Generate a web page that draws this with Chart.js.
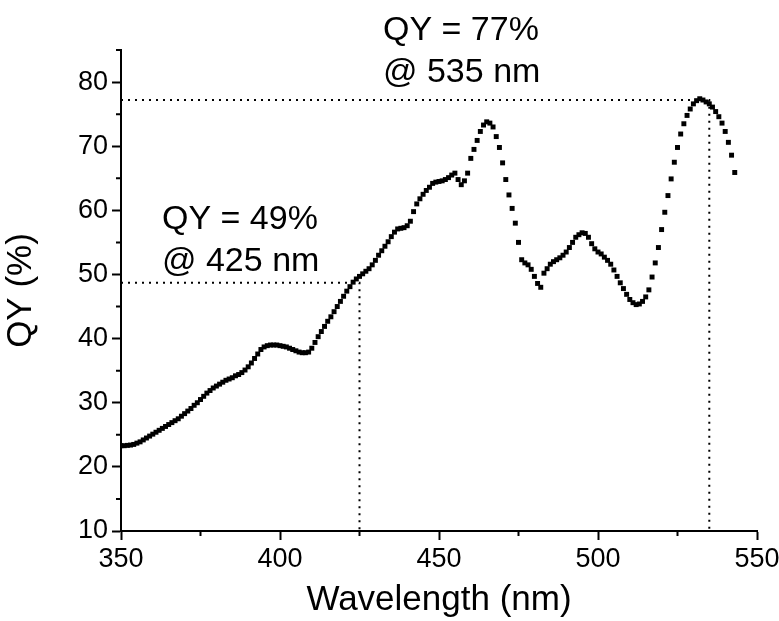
<!DOCTYPE html>
<html>
<head>
<meta charset="utf-8">
<script src="https://cdn.jsdelivr.net/npm/chart.js@4.4.0/dist/chart.umd.min.js"></script>
<style>
    html, body { margin: 0; padding: 0; background: #fff; }
</style>
</head>
<body>
<canvas id="qyChart" width="779" height="621"></canvas>
<script>
// Wavelength (nm), one point per nm
const wavelength = [
    350, 351, 352, 353, 354, 355, 356, 357, 358, 359,
    360, 361, 362, 363, 364, 365, 366, 367, 368, 369,
    370, 371, 372, 373, 374, 375, 376, 377, 378, 379,
    380, 381, 382, 383, 384, 385, 386, 387, 388, 389,
    390, 391, 392, 393, 394, 395, 396, 397, 398, 399,
    400, 401, 402, 403, 404, 405, 406, 407, 408, 409,
    410, 411, 412, 413, 414, 415, 416, 417, 418, 419,
    420, 421, 422, 423, 424, 425, 426, 427, 428, 429,
    430, 431, 432, 433, 434, 435, 436, 437, 438, 439,
    440, 441, 442, 443, 444, 445, 446, 447, 448, 449,
    450, 451, 452, 453, 454, 455, 456, 457, 458, 459,
    460, 461, 462, 463, 464, 465, 466, 467, 468, 469,
    470, 471, 472, 473, 474, 475, 476, 477, 478, 479,
    480, 481, 482, 483, 484, 485, 486, 487, 488, 489,
    490, 491, 492, 493, 494, 495, 496, 497, 498, 499,
    500, 501, 502, 503, 504, 505, 506, 507, 508, 509,
    510, 511, 512, 513, 514, 515, 516, 517, 518, 519,
    520, 521, 522, 523, 524, 525, 526, 527, 528, 529,
    530, 531, 532, 533, 534, 535, 536, 537, 538, 539,
    540, 541, 542, 543
];

// Quantum yield (%)
const qy = [
    23.3, 23.3, 23.35, 23.4, 23.5, 23.7, 23.9, 24.2, 24.5, 24.8,
    25.1, 25.4, 25.7, 26.0, 26.3, 26.6, 26.9, 27.2, 27.5, 27.9,
    28.3, 28.7, 29.1, 29.6, 30.0, 30.5, 31.0, 31.5, 31.9, 32.3,
    32.6, 32.9, 33.2, 33.5, 33.7, 33.9, 34.2, 34.4, 34.7, 35.1,
    35.6, 36.2, 36.9, 37.6, 38.3, 38.7, 38.9, 39.0, 39.0, 39.0,
    38.9, 38.8, 38.7, 38.5, 38.3, 38.1, 37.9, 37.8, 37.8, 37.9,
    38.5, 39.4, 40.3, 41.1, 41.9, 42.7, 43.4, 44.2, 45.0, 45.8,
    46.6, 47.4, 48.1, 48.8, 49.3, 49.7, 50.1, 50.5, 50.9, 51.5,
    52.2, 53.0, 53.7, 54.4, 55.1, 55.9, 56.6, 57.1, 57.2, 57.3,
    57.6, 58.3, 59.8, 61.0, 61.8, 62.5, 63.1, 63.6, 64.2, 64.4,
    64.5, 64.6, 64.8, 65.1, 65.5, 65.8, 64.8, 64.0, 64.6, 65.8,
    68.1, 69.5, 70.9, 72.3, 73.3, 73.8, 73.6, 73.0, 71.5, 69.8,
    67.4, 64.8, 62.4, 60.3, 58.0, 55.0, 52.3, 51.8, 51.5, 50.8,
    49.7, 48.6, 48.0, 50.2, 50.9, 51.6, 52.0, 52.3, 52.6, 53.0,
    53.5, 54.2, 55.0, 55.8, 56.2, 56.5, 56.4, 55.8, 54.8, 54.0,
    53.5, 53.2, 52.7, 52.2, 51.6, 50.7, 49.7, 48.7, 47.8, 46.9,
    46.1, 45.6, 45.3, 45.4, 45.8, 46.5, 47.6, 49.6, 51.8, 54.2,
    57.0, 59.7, 62.3, 64.9, 67.5, 69.8, 71.9, 73.5, 74.8, 75.8,
    76.6, 77.1, 77.4, 77.2, 76.9, 76.6, 76.1, 75.4, 74.6, 73.6,
    72.3, 70.6, 68.6, 65.9
];

// Marked points (dotted guide lines)
const markNm = [425, 535];
const markQY = [48.7, 77.2];
const markLabels = [['QY = 49%', '@ 425 nm'], ['QY = 77%', '@ 535 nm']];

// Axis ticks
const xMajor = [350, 400, 450, 500, 550];
const xMinor = [375, 425, 475, 525];
const yMajor = [10, 20, 30, 40, 50, 60, 70, 80];
const yMinor = [15, 25, 35, 45, 55, 65, 75, 85];

const FONT = '"Liberation Sans", Arial, sans-serif';

const points = wavelength.map((w, i) => ({ x: w, y: qy[i] }));

// guide lines: horizontal from left edge to the point, then down to the x axis
const guideSets = markNm.map((nm, i) => ({
    type: 'line',
    data: [{ x: 350, y: markQY[i] }, { x: nm, y: markQY[i] }, { x: nm, y: 10 }],
    borderColor: '#000',
    borderWidth: 2,
    borderDash: [2, 5],
    pointRadius: 0,
    fill: false,
    order: 2
}));

/* ------------------ MINOR TICKS + LABELS ------------------ */
const extrasPlugin = {
    id: 'extras',
    afterDraw(chart) {
        const ctx = chart.ctx;
        const xs = chart.scales.x;
        const ys = chart.scales.y;
        const area = chart.chartArea;

        ctx.save();
        ctx.strokeStyle = '#000';
        ctx.lineWidth = 2;
        ctx.beginPath();
        xMinor.forEach(v => {
            const px = xs.getPixelForValue(v);
            ctx.moveTo(px, area.bottom);
            ctx.lineTo(px, area.bottom + 5);
        });
        yMinor.forEach(v => {
            const py = ys.getPixelForValue(v);
            ctx.moveTo(area.left - 5, py);
            ctx.lineTo(area.left, py);
        });
        ctx.stroke();

        // annotation text
        ctx.fillStyle = '#000';
        ctx.font = `34px ${FONT}`;
        ctx.textBaseline = 'alphabetic';
        ctx.textAlign = 'left';
        const spots = [[162, 229, 271], [383, 40, 82]];
        markLabels.forEach((lines, i) => {
            ctx.fillText(lines[0], spots[i][0], spots[i][1]);
            ctx.fillText(lines[1], spots[i][0], spots[i][2]);
        });
        ctx.restore();
    }
};

const ctx = document.getElementById('qyChart');
new Chart(ctx, {
    type: 'scatter',
    data: {
        datasets: [{
            label: 'QY',
            data: points,
            pointStyle: 'rect',
            pointRadius: 3.5,
            pointBorderWidth: 0,
            backgroundColor: '#000',
            borderColor: '#000',
            showLine: false,
            order: 1
        }, ...guideSets]
    },
    options: {
        responsive: false,
        animation: false,
        layout: { padding: { left: 0, top: 50, right: 22, bottom: 0 } },
        plugins: {
            legend: { display: false },
            tooltip: { enabled: false }
        },
        scales: {
            x: {
                type: 'linear',
                min: 350,
                max: 550,
                afterBuildTicks: scale => { scale.ticks = xMajor.map(v => ({ value: v })); },
                afterFit: scale => {
                    scale.height = 90;
                    scale.paddingLeft = 0;
                    scale.paddingRight = 0;
                },
                border: { display: true, color: '#000', width: 2 },
                grid: {
                    drawOnChartArea: false,
                    drawTicks: true,
                    tickLength: 9,
                    tickColor: '#000',
                    tickWidth: 2
                },
                ticks: {
                    color: '#000',
                    padding: 3,
                    maxRotation: 0,
                    font: { family: FONT, size: 27 }
                },
                title: {
                    display: true,
                    text: 'Wavelength (nm)',
                    color: '#000',
                    font: { family: FONT, size: 35 },
                    padding: { top: 0, bottom: 0 }
                }
            },
            y: {
                type: 'linear',
                min: 10,
                max: 85,
                afterBuildTicks: scale => { scale.ticks = yMajor.map(v => ({ value: v })); },
                afterFit: scale => {
                    scale.width = 121;
                    scale.paddingTop = 0;
                    scale.paddingBottom = 0;
                },
                border: { display: true, color: '#000', width: 2 },
                grid: {
                    drawOnChartArea: false,
                    drawTicks: true,
                    tickLength: 9,
                    tickColor: '#000',
                    tickWidth: 2
                },
                ticks: {
                    color: '#000',
                    padding: 4,
                    font: { family: FONT, size: 27 }
                },
                title: {
                    display: true,
                    text: 'QY (%)',
                    color: '#000',
                    font: { family: FONT, size: 35 },
                    padding: { top: 0, bottom: 6 }
                }
            }
        }
    },
    plugins: [extrasPlugin]
});
</script>
</body>
</html>
